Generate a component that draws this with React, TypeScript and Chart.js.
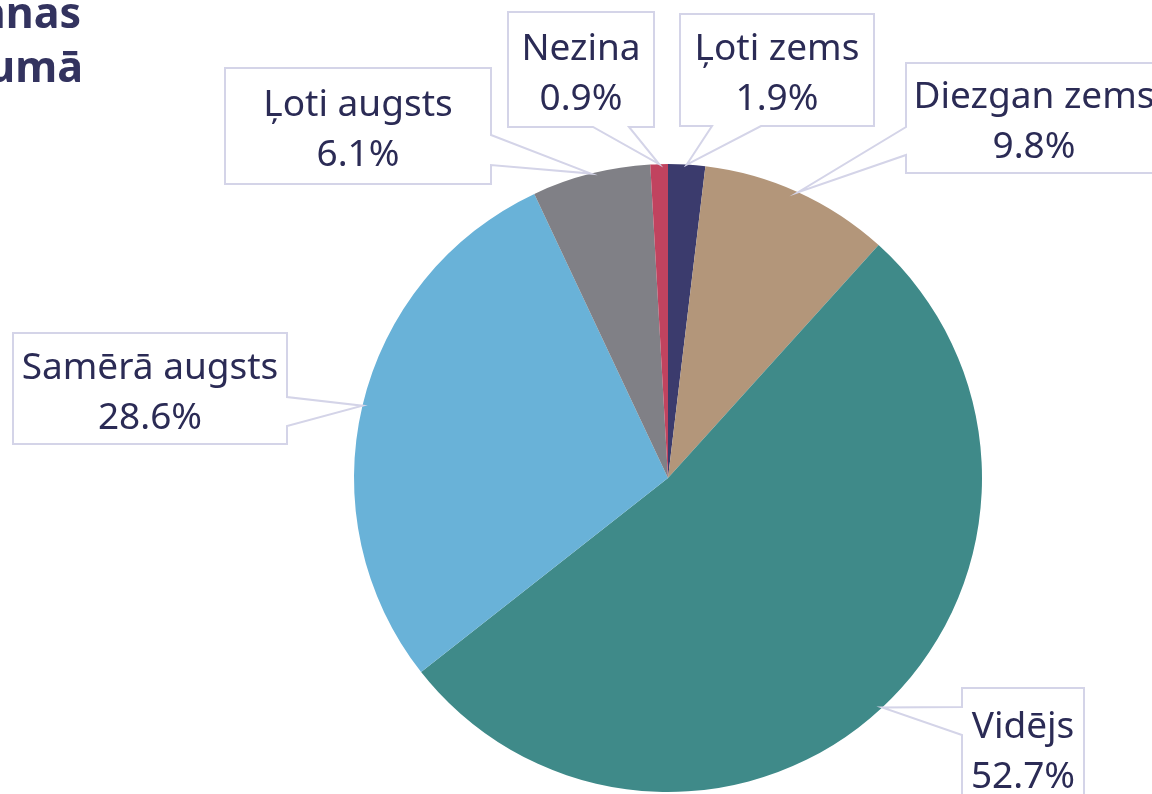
import React, { useEffect, useRef } from "react";
import Chart from "chart.js/auto";

const categories = ["Ļoti zems", "Diezgan zems", "Vidējs", "Samērā augsts", "Ļoti augsts", "Nezina"];
const shares = [1.9, 9.8, 52.7, 28.6, 6.1, 0.9];
const sliceColors = ["#3b3b6d", "#b3967a", "#3f8a89", "#69b2d8", "#808086", "#c1435f"];
const titleLines = ["nnas", "umā"];

// callout boxes: layout only (x, y, w, h, side of pointer, pointer base positions along that side)
const calloutLayout = [
  { x: 680, y: 14, w: 194, h: 112, side: "bottom", b1: 712, b2: 761 },
  { x: 906, y: 63, w: 256, h: 110, side: "left", b1: 127, b2: 155 },
  { x: 962, y: 688, w: 122, h: 120, side: "left", b1: 707, b2: 735 },
  { x: 13, y: 333, w: 274, h: 111, side: "right", b1: 397, b2: 426 },
  { x: 225, y: 68, w: 266, h: 116, side: "right", b1: 135, b2: 165 },
  { x: 508, y: 12, w: 146, h: 115, side: "bottom", b1: 593, b2: 629 },
];

const TEXT = "#2b2b55";
const BORDER = "#d4d4e8";
const FONT = "'Noto Sans', 'Open Sans', sans-serif";

const calloutPlugin = {
  id: "callouts",
  afterDraw(chart: any) {
    const ctx = chart.ctx;
    const meta = chart.getDatasetMeta(0);
    ctx.save();
    meta.data.forEach((arc: any, i: number) => {
      const L = calloutLayout[i];
      const p = arc.getProps(["x", "y", "startAngle", "endAngle", "outerRadius"], true);
      const mid = (p.startAngle + p.endAngle) / 2;
      const tx = p.x + Math.cos(mid) * p.outerRadius;
      const ty = p.y + Math.sin(mid) * p.outerRadius;
      const { x, y, w, h } = L;
      ctx.beginPath();
      if (L.side === "bottom") {
        ctx.moveTo(x, y);
        ctx.lineTo(x + w, y);
        ctx.lineTo(x + w, y + h);
        ctx.lineTo(L.b2, y + h);
        ctx.lineTo(tx, ty);
        ctx.lineTo(L.b1, y + h);
        ctx.lineTo(x, y + h);
        ctx.closePath();
      } else if (L.side === "left") {
        ctx.moveTo(x, y);
        ctx.lineTo(x + w, y);
        ctx.lineTo(x + w, y + h);
        ctx.lineTo(x, y + h);
        ctx.lineTo(x, L.b2);
        ctx.lineTo(tx, ty);
        ctx.lineTo(x, L.b1);
        ctx.closePath();
      } else {
        ctx.moveTo(x, y);
        ctx.lineTo(x + w, y);
        ctx.lineTo(x + w, L.b1);
        ctx.lineTo(tx, ty);
        ctx.lineTo(x + w, L.b2);
        ctx.lineTo(x + w, y + h);
        ctx.lineTo(x, y + h);
        ctx.closePath();
      }
      ctx.fillStyle = "#ffffff";
      ctx.fill();
      ctx.lineWidth = 2;
      ctx.strokeStyle = BORDER;
      ctx.lineJoin = "miter";
      ctx.stroke();

      const cx = x + w / 2;
      const cy = y + h / 2;
      ctx.fillStyle = TEXT;
      ctx.font = `37px ${FONT}`;
      ctx.textAlign = "center";
      ctx.textBaseline = "alphabetic";
      ctx.fillText(categories[i], cx, cy - 10);
      ctx.fillText(shares[i].toFixed(1) + "%", cx, cy + 40);
    });

    ctx.fillStyle = "#33335f";
    ctx.font = `bold 43px ${FONT}`;
    ctx.textAlign = "right";
    ctx.fillText(titleLines[0], 81, 28);
    ctx.fillText(titleLines[1], 83, 82);
    ctx.restore();
  },
};

export default function App() {
  const ref = useRef<HTMLCanvasElement | null>(null);
  useEffect(() => {
    if (!ref.current) return;
    const chart = new Chart(ref.current, {
      type: "pie",
      data: {
        labels: categories,
        datasets: [
          {
            data: shares,
            backgroundColor: sliceColors,
            borderWidth: 0,
          },
        ],
      },
      options: {
        responsive: false,
        animation: false,
        layout: { padding: { top: 164, bottom: 2, left: 354, right: 170 } },
        plugins: {
          legend: { display: false },
          tooltip: { enabled: false },
        },
      },
      plugins: [calloutPlugin],
    });
    return () => chart.destroy();
  }, []);
  return (
    <div style={{ position: "absolute", left: 0, top: 0, width: 1152, height: 794, background: "#fff" }}>
      <canvas ref={ref} width={1152} height={794} style={{ display: "block" }} />
    </div>
  );
}
